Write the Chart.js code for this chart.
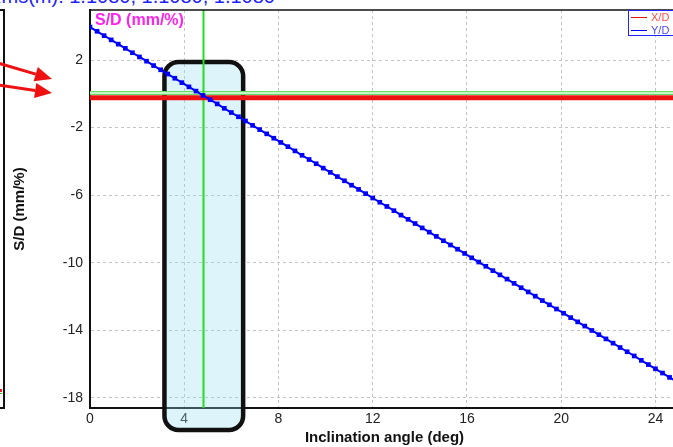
<!DOCTYPE html>
<html>
<head>
<meta charset="utf-8">
<script src="https://cdn.jsdelivr.net/npm/chart.js@4/dist/chart.umd.min.js"></script>
<style>
  html, body { margin: 0; padding: 0; background: #fff; overflow: hidden; width: 673px; height: 447px; }
  #wrap { position: absolute; left: 0; top: 0; width: 683px; height: 447px; }
  #topText { position: absolute; right: 398px; top: -14px; white-space: nowrap;
    font: 20px "Liberation Sans", Arial, sans-serif; color: #1e1eff; line-height: 20px; }
</style>
</head>
<body>
<div id="topText">Rms(m): 1.1080, 1.1080, 1.1080</div>
<div id="wrap"><canvas id="sdChart"></canvas></div>
<script>
// inclination angle (deg) and S/D (mm/%)
const angles = [0, 0.3, 0.6, 0.9, 1.2, 1.5, 1.8, 2.1, 2.4, 2.7, 3.0, 3.3, 3.6, 3.9, 4.2, 4.5, 4.8, 5.1, 5.4, 5.7,
    6.0, 6.3, 6.6, 6.9, 7.2, 7.5, 7.8, 8.1, 8.4, 8.7, 9.0, 9.3, 9.6, 9.9, 10.2, 10.5, 10.8, 11.1, 11.4, 11.7,
    12.0, 12.3, 12.6, 12.9, 13.2, 13.5, 13.8, 14.1, 14.4, 14.7, 15.0, 15.3, 15.6, 15.9, 16.2, 16.5, 16.8, 17.1, 17.4, 17.7,
    18.0, 18.3, 18.6, 18.9, 19.2, 19.5, 19.8, 20.1, 20.4, 20.7, 21.0, 21.3, 21.6, 21.9, 22.2, 22.5, 22.8, 23.1, 23.4, 23.7,
    24.0, 24.3, 24.6, 24.9];
const ydValues = [3.95, 3.70, 3.44, 3.19, 2.94, 2.69, 2.43, 2.18, 1.93, 1.67, 1.42, 1.17, 0.92, 0.66, 0.41, 0.16, -0.10, -0.35, -0.60, -0.86,
    -1.11, -1.36, -1.61, -1.87, -2.12, -2.37, -2.63, -2.88, -3.13, -3.38, -3.64, -3.89, -4.14, -4.40, -4.65, -4.90, -5.15, -5.41, -5.66, -5.91,
    -6.17, -6.42, -6.67, -6.92, -7.18, -7.43, -7.68, -7.94, -8.19, -8.44, -8.70, -8.95, -9.20, -9.45, -9.71, -9.96, -10.21, -10.47, -10.72, -10.97,
    -11.22, -11.48, -11.73, -11.98, -12.24, -12.49, -12.74, -12.99, -13.25, -13.50, -13.75, -14.01, -14.26, -14.51, -14.76, -15.02, -15.27, -15.52, -15.78, -16.03,
    -16.28, -16.53, -16.79, -17.04];
const xdAngles = [0, 5, 10, 15, 20, 25];
const xdValues = [-0.23, -0.23, -0.23, -0.23, -0.23, -0.23];
const xTicks = [0, 4, 8, 12, 16, 20, 24];
const yTicks = [2, -2, -6, -10, -14, -18];
const cursorAngle = 4.81;
const cursorValue = 0.05;
const boxRange = { x0: 3.16, x1: 6.5, y0: 1.88, y1: -19.9 };

const textFont = '"Liberation Sans", Arial, sans-serif';

function toPoints(xs, ys) {
    return xs.map(function (x, i) { return { x: x, y: ys[i] }; });
}

function roundRect(ctx, x, y, w, h, r) {
    ctx.beginPath();
    ctx.moveTo(x + r, y);
    ctx.arcTo(x + w, y, x + w, y + h, r);
    ctx.arcTo(x + w, y + h, x, y + h, r);
    ctx.arcTo(x, y + h, x, y, r);
    ctx.arcTo(x, y, x + w, y, r);
    ctx.closePath();
}

function arrow(ctx, x0, y0, x1, y1) {
    const a = Math.atan2(y1 - y0, x1 - x0);
    const len = 17, half = 7.5;
    const bx = x1 - len * Math.cos(a), by = y1 - len * Math.sin(a);
    ctx.strokeStyle = "#ee1111";
    ctx.fillStyle = "#ee1111";
    ctx.lineWidth = 3;
    ctx.beginPath();
    ctx.moveTo(x0, y0);
    ctx.lineTo(bx, by);
    ctx.stroke();
    ctx.beginPath();
    ctx.moveTo(x1, y1);
    ctx.lineTo(bx - half * Math.sin(a), by + half * Math.cos(a));
    ctx.lineTo(bx + half * Math.sin(a), by - half * Math.cos(a));
    ctx.closePath();
    ctx.fill();
}

const underlay = {
    id: "underlay",
    beforeDatasetsDraw: function (chart) {
        const ctx = chart.ctx, xs = chart.scales.x, ys = chart.scales.y, area = chart.chartArea;
        ctx.save();
        // highlight box
        const bx0 = xs.getPixelForValue(boxRange.x0), bx1 = xs.getPixelForValue(boxRange.x1);
        const by0 = ys.getPixelForValue(boxRange.y0), by1 = ys.getPixelForValue(boxRange.y1);
        roundRect(ctx, bx0, by0, bx1 - bx0, by1 - by0, 14);
        ctx.fillStyle = "rgba(150, 220, 240, 0.32)";
        ctx.fill();
        ctx.lineWidth = 4.5;
        ctx.strokeStyle = "#111";
        ctx.stroke();
        // cursor lines
        const cx = Math.round(xs.getPixelForValue(cursorAngle)) + 0.5;
        const cy = ys.getPixelForValue(cursorValue);
        ctx.lineWidth = 4;
        ctx.strokeStyle = "#66dd66";
        ctx.beginPath();
        ctx.moveTo(area.left, cy);
        ctx.lineTo(area.right, cy);
        ctx.stroke();
        ctx.lineWidth = 1.5;
        ctx.strokeStyle = "#e6fbe6";
        ctx.beginPath();
        ctx.moveTo(area.left, cy);
        ctx.lineTo(area.right, cy);
        ctx.stroke();
        ctx.lineWidth = 2;
        ctx.strokeStyle = "#22dd22";
        ctx.beginPath();
        ctx.moveTo(cx, area.top);
        ctx.lineTo(cx, area.bottom);
        ctx.stroke();
        ctx.restore();
    }
};

const overlay = {
    id: "overlay",
    afterDraw: function (chart) {
        const ctx = chart.ctx, area = chart.chartArea;
        ctx.save();
        // top frame
        ctx.strokeStyle = "#111";
        ctx.lineWidth = 1.5;
        ctx.beginPath();
        ctx.moveTo(area.left, area.top);
        ctx.lineTo(area.right, area.top);
        ctx.stroke();
        // inner title
        ctx.font = "bold 16px " + textFont;
        ctx.fillStyle = "#ff22ee";
        ctx.textBaseline = "middle";
        ctx.textAlign = "left";
        ctx.fillText("S/D (mm/%)", area.left + 5, area.top + 11);
        // legend
        const lx = 628, ly = 10;
        ctx.fillStyle = "#fff";
        ctx.fillRect(lx, ly, 60, 25);
        ctx.strokeStyle = "#2222ff";
        ctx.lineWidth = 1;
        ctx.strokeRect(lx + 0.5, ly + 0.5, 60, 25);
        ctx.font = "11px " + textFont;
        [[0, 7], [1, 20]].forEach(function (it) {
            const ds = chart.data.datasets[it[0] === 0 ? 1 : 0];
            ctx.strokeStyle = ds.borderColor;
            ctx.lineWidth = 1;
            ctx.beginPath();
            ctx.moveTo(lx + 3, ly + it[1] + 0.5);
            ctx.lineTo(lx + 19, ly + it[1] + 0.5);
            ctx.stroke();
            ctx.fillStyle = it[0] === 0 ? "#ff4a4a" : "#4a4aff";
            ctx.fillText(ds.label, lx + 23, ly + it[1] + 1);
        });
        // neighbouring panel edge
        ctx.strokeStyle = "#111";
        ctx.lineWidth = 2;
        ctx.beginPath();
        ctx.moveTo(0, area.top);
        ctx.lineTo(4, area.top);
        ctx.lineTo(4, area.bottom);
        ctx.lineTo(0, area.bottom);
        ctx.stroke();
        ctx.fillStyle = "#ee2222";
        ctx.fillRect(0, 389, 2, 3);
        ctx.fillStyle = "#22cc22";
        ctx.fillRect(0, 393, 2, 1);
        // arrows
        arrow(ctx, -2, 63, 52, 79);
        arrow(ctx, -2, 85, 52, 93);
        ctx.restore();
    }
};

new Chart(document.getElementById("sdChart"), {
    type: "line",
    data: {
        datasets: [
            {
                label: "Y/D",
                data: toPoints(angles, ydValues),
                borderColor: "#0000ff",
                backgroundColor: "#0000ff",
                borderWidth: 2,
                pointStyle: "rect",
                pointRadius: 3.3,
                pointBorderWidth: 0,
                order: 0
            },
            {
                label: "X/D",
                data: toPoints(xdAngles, xdValues),
                borderColor: "#ee1111",
                backgroundColor: "#ee1111",
                borderWidth: 5,
                pointRadius: 0,
                order: 1
            }
        ]
    },
    options: {
        responsive: true,
        maintainAspectRatio: false,
        animation: false,
        layout: { padding: { left: 0, right: 0, top: 10, bottom: 0 } },
        plugins: {
            legend: { display: false },
            tooltip: { enabled: false }
        },
        scales: {
            x: {
                type: "linear",
                min: 0,
                max: 25,
                afterBuildTicks: function (scale) {
                    scale.ticks = xTicks.map(function (v) { return { value: v }; });
                },
                afterFit: function (scale) { scale.height = 39; },
                grid: { color: "#c4c4c4", drawTicks: false },
                border: { display: true, color: "#111", width: 2, dash: [3, 3] },
                ticks: { color: "#222", padding: 3, font: { size: 14, family: textFont } },
                title: {
                    display: true,
                    text: "Inclination angle (deg)",
                    color: "#111",
                    padding: { top: 0, bottom: 0 },
                    font: { size: 15, weight: "bold", family: textFont }
                }
            },
            y: {
                type: "linear",
                min: -18.6,
                max: 4.96,
                afterBuildTicks: function (scale) {
                    scale.ticks = yTicks.map(function (v) { return { value: v }; });
                },
                afterFit: function (scale) {
                    scale.width = 90;
                    scale.paddingTop = 0;
                    scale.paddingBottom = 0;
                },
                grid: { color: "#c4c4c4", drawTicks: false },
                border: { display: true, color: "#111", width: 2, dash: [3, 3] },
                ticks: { color: "#222", padding: 7, font: { size: 14, family: textFont } },
                title: {
                    display: true,
                    text: "S/D (mm/%)",
                    color: "#111",
                    padding: { top: 11, bottom: 0 },
                    font: { size: 15, weight: "bold", family: textFont }
                }
            }
        }
    },
    plugins: [underlay, overlay]
});
</script>
</body>
</html>
